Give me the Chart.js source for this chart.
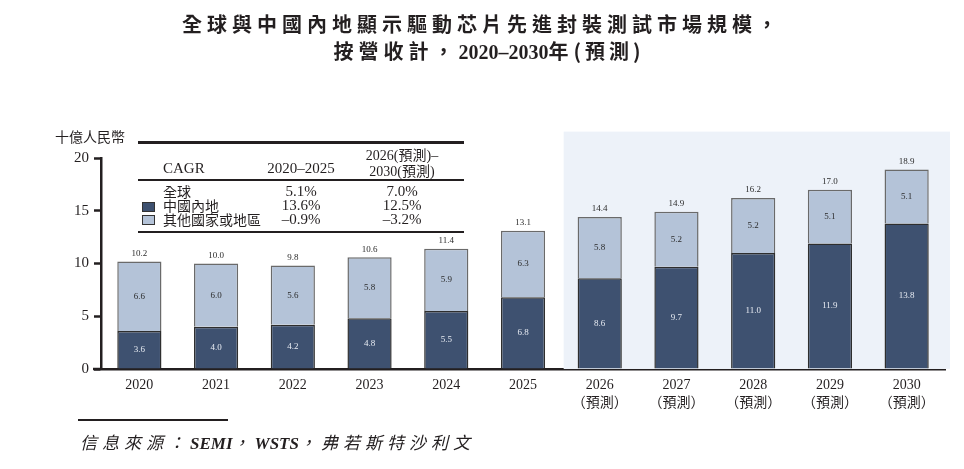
<!DOCTYPE html>
<html>
<head>
<meta charset="utf-8">
<script src="https://cdn.jsdelivr.net/npm/chart.js@4.4.1/dist/chart.umd.min.js"></script>
<style>
  html, body { margin:0; padding:0; background:#fff; }
  body { width:964px; height:469px; position:relative; overflow:hidden;
         font-family:"Liberation Serif","Noto Sans CJK TC",serif; color:#231f20; }
  #c { position:absolute; left:0; top:0; }
  .abs { position:absolute; white-space:nowrap; }
  .title { left:0; width:964px; text-align:center; font-weight:bold; font-size:20px;
           font-family:"Liberation Serif","Noto Sans CJK TC",serif; }
  .title .c { letter-spacing:5px; font-family:"Noto Sans CJK TC",sans-serif; }
  .title .n { letter-spacing:0; font-family:"Liberation Serif",serif; }
  .title .p { letter-spacing:4px; font-family:"Noto Sans CJK TC",sans-serif; }
  .cjk { font-family:"Noto Sans CJK TC",sans-serif; }
  .hline { position:absolute; background:#231f20; }
  .sw { position:absolute; width:13px; height:10px; border:1px solid #333; box-sizing:border-box; }
  .src .c { letter-spacing:5px; font-family:"Noto Sans CJK TC",sans-serif; font-style:italic; }
  .src .n { letter-spacing:0; font-family:"Liberation Serif",serif; font-weight:bold; font-style:italic; }
</style>
</head>
<body>
<canvas id="c" width="964" height="469"></canvas>

<div class="abs title" style="top:9px;"><span class="c">全球與中國內地顯示驅動芯片先進封裝測試市場規模，</span></div>
<div class="abs title" style="top:36px; padding-left:14px; box-sizing:border-box;"><span class="c">按營收計，</span><span class="n">2020–2030</span><span class="c">年</span><span class="p">(預測)</span></div>

<div class="abs cjk" style="left:55px; top:126px; font-size:14px;">十億人民幣</div>

<div class="hline" style="left:138px; top:141px; width:326px; height:2.5px;"></div>
<div class="hline" style="left:138px; top:179px; width:326px; height:2px;"></div>
<div class="hline" style="left:138px; top:231px; width:326px; height:2px;"></div>

<div class="abs" style="left:163px; top:160px; font-size:15px;">CAGR</div>
<div class="abs" style="left:261px; width:80px; text-align:center; top:160px; font-size:15px;">2020–2025</div>
<div class="abs" style="left:352px; width:100px; text-align:center; top:144px; font-size:14px;">2026(預測)–</div>
<div class="abs" style="left:352px; width:100px; text-align:center; top:160px; font-size:14px;">2030(預測)</div>

<div class="abs cjk" style="left:163px; top:182px; font-size:14px; line-height:18px;">全球</div>
<div class="sw" style="left:142px; top:202px; background:#3e5170;"></div>
<div class="abs cjk" style="left:163px; top:196px; font-size:14px; line-height:18px;">中國內地</div>
<div class="sw" style="left:142px; top:215px; background:#b4c3d8;"></div>
<div class="abs cjk" style="left:163px; top:210px; font-size:14px; line-height:18px;">其他國家或地區</div>

<div class="abs" style="left:261px; width:80px; text-align:center; top:182px; font-size:15px; line-height:18px;">5.1%</div>
<div class="abs" style="left:261px; width:80px; text-align:center; top:196px; font-size:15px; line-height:18px;">13.6%</div>
<div class="abs" style="left:261px; width:80px; text-align:center; top:210px; font-size:15px; line-height:18px;">–0.9%</div>
<div class="abs" style="left:352px; width:100px; text-align:center; top:182px; font-size:15px; line-height:18px;">7.0%</div>
<div class="abs" style="left:352px; width:100px; text-align:center; top:196px; font-size:15px; line-height:18px;">12.5%</div>
<div class="abs" style="left:352px; width:100px; text-align:center; top:210px; font-size:15px; line-height:18px;">–3.2%</div>

<div class="hline" style="left:78px; top:419px; width:150px; height:2px;"></div>
<div class="abs src" style="left:80px; top:429px; font-size:17px;"><span class="c">信息來源：</span><span class="n">SEMI</span><span class="c">，</span><span class="n">WSTS</span><span class="c">，弗若斯特沙利文</span></div>

<script>
const years = ['2020','2021','2022','2023','2024','2025','2026','2027','2028','2029','2030'];
const forecastMark = '（預測）';
const chinaMainland = [3.6, 4.0, 4.2, 4.8, 5.5, 6.8, 8.6, 9.7, 11.0, 11.9, 13.8];
const otherRegions  = [6.6, 6.0, 5.6, 5.8, 5.9, 6.3, 5.8, 5.2, 5.2, 5.1, 5.1];
const globalTotal   = [10.2, 10.0, 9.8, 10.6, 11.4, 13.1, 14.4, 14.9, 16.2, 17.0, 18.9];
const firstForecastIndex = 6;
const yTicks = [0, 5, 10, 15, 20];

const labels = years.map((y, i) => i >= firstForecastIndex ? [y, forecastMark] : y);

const shadePlugin = {
  id: 'shade',
  beforeDatasetsDraw(chart) {
    const {ctx, scales:{x, y}, chartArea} = chart;
    const left = x.getPixelForValue(firstForecastIndex - 0.47);
    const top = y.getPixelForValue(22.5);
    ctx.save();
    ctx.fillStyle = '#edf2f9';
    ctx.fillRect(left, top, chartArea.right + 5 - left, chartArea.bottom - top);
    ctx.restore();
  },
  afterDraw(chart) {
    const {ctx, chartArea} = chart;
    ctx.save();
    ctx.strokeStyle = '#231f20';
    ctx.lineWidth = 2.5;
    ctx.beginPath();
    ctx.moveTo(chartArea.left - 8, chartArea.bottom);
    ctx.lineTo(chartArea.left, chartArea.bottom);
    ctx.stroke();
    ctx.restore();
  }
};

const labelPlugin = {
  id: 'vals',
  afterDatasetsDraw(chart) {
    const {ctx} = chart;
    ctx.save();
    ctx.font = '9px "Liberation Serif", serif';
    ctx.textAlign = 'center';
    ctx.textBaseline = 'middle';
    const m0 = chart.getDatasetMeta(0).data;
    const m1 = chart.getDatasetMeta(1).data;
    m0.forEach((bar, i) => {
      ctx.fillStyle = '#e8ecf3';
      ctx.fillText(chinaMainland[i].toFixed(1), bar.x, (bar.y + bar.base) / 2);
    });
    m1.forEach((bar, i) => {
      ctx.fillStyle = '#2b2b2b';
      ctx.fillText(otherRegions[i].toFixed(1), bar.x, (bar.y + bar.base) / 2);
      ctx.fillText(globalTotal[i].toFixed(1), bar.x, bar.y - 8);
    });
    ctx.restore();
  }
};

new Chart(document.getElementById('c'), {
  type: 'bar',
  data: {
    labels,
    datasets: [
      { label: '中國內地', data: chinaMainland, backgroundColor: '#3e5170',
        borderColor: '#2e2e2e', borderWidth: {top:1.5, left:1.5, right:1.5, bottom:0}, borderSkipped: false,
        barPercentage: 0.9, categoryPercentage: 0.64 },
      { label: '其他國家或地區', data: otherRegions, backgroundColor: '#b4c3d8',
        borderColor: '#6a6a6a', borderWidth: {top:1.5, left:1.5, right:1.5, bottom:0}, borderSkipped: false,
        barPercentage: 0.9, categoryPercentage: 0.64 }
    ]
  },
  options: {
    responsive: false,
    animation: false,
    events: [],
    layout: { padding: { left: 0, right: 19, top: 158, bottom: 0 } },
    plugins: { legend: { display: false }, tooltip: { enabled: false }, title: { display: false } },
    scales: {
      x: {
        stacked: true,
        grid: { display: false, drawTicks: false },
        border: { display: true, color: '#231f20', width: 2.5 },
        ticks: { color: '#231f20', padding: 8, maxRotation: 0, autoSkip: false,
                 font: { family: '"Liberation Serif", "Noto Sans CJK TC", serif', size: 14, lineHeight: 1.25 } },
        afterFit(s) { s.height = 100; }
      },
      y: {
        stacked: true, min: 0, max: 20,
        afterBuildTicks(s) { s.ticks = yTicks.map(v => ({ value: v })); },
        grid: { display: true, drawOnChartArea: false, drawTicks: true, tickLength: 7, tickWidth: 2.5, color: '#231f20' },
        border: { display: true, color: '#231f20', width: 2.5 },
        ticks: { color: '#231f20', padding: 5, font: { family: '"Liberation Serif", serif', size: 15 } },
        afterFit(s) { s.width = 101; }
      }
    }
  },
  plugins: [shadePlugin, labelPlugin]
});
</script>
</body>
</html>
